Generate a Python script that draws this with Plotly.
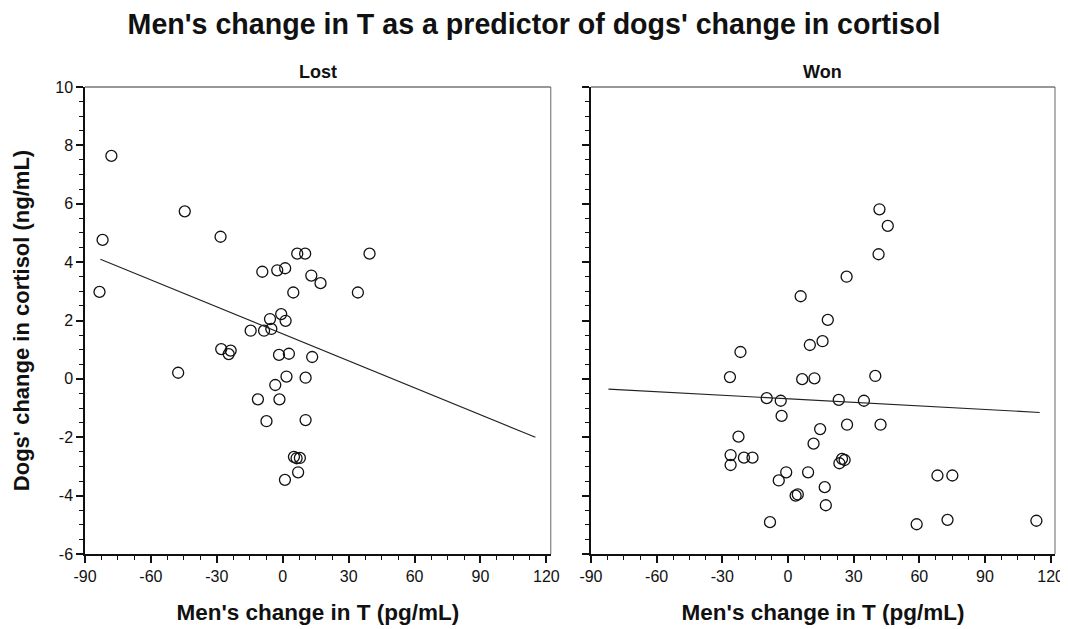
import plotly.graph_objects as go

# ---- data ----
lost_x = [-83.4, -82.0, -78.0, -44.6, -28.3, -9.3, -2.5, 1.1, 6.6, 10.2, 39.5, 13.0, 17.2, 4.8, 34.2,
          -0.7, -5.8, 1.3, -14.6, -8.5, -5.2, -28.0, -23.7, -24.6, -1.7, 2.8, 13.4, 1.7, 10.4, -3.4,
          -47.6, -11.3, -1.5, -7.4, 10.4, 5.1, 6.3, 7.8, 7.0, 1.0]
lost_y = [2.98, 4.76, 7.64, 5.74, 4.87, 3.67, 3.72, 3.79, 4.29, 4.29, 4.29, 3.54, 3.28, 2.96, 2.96,
          2.22, 2.05, 1.99, 1.65, 1.65, 1.71, 1.02, 0.97, 0.85, 0.82, 0.86, 0.75, 0.08, 0.04, -0.21,
          0.21, -0.70, -0.70, -1.45, -1.41, -2.67, -2.72, -2.71, -3.20, -3.46]

won_x = [41.8, 45.6, 41.4, 26.8, 5.8, 18.2, 10.0, 15.8, -21.7, -26.5, 6.5, 12.1, 39.9, -9.7, -3.3,
         23.2, 34.7, -2.9, 14.7, 27.0, 42.3, -22.6, -26.2, -26.2, -20.1, -16.2, 11.7, 24.7, 25.9, 23.5,
         -0.8, 9.2, -4.2, 16.8, 3.5, 4.5, 17.3, -8.2, 58.8, 72.9, 113.5, 68.3, 75.1]
won_y = [5.81, 5.24, 4.27, 3.50, 2.83, 2.02, 1.16, 1.29, 0.92, 0.06, -0.01, 0.02, 0.10, -0.66, -0.75,
         -0.72, -0.75, -1.27, -1.72, -1.57, -1.57, -1.98, -2.61, -2.95, -2.70, -2.70, -2.22, -2.74, -2.78, -2.89,
         -3.20, -3.20, -3.48, -3.71, -4.00, -3.96, -4.33, -4.91, -4.98, -4.83, -4.86, -3.31, -3.31]

fit_lost_x = [-83, 115]
fit_lost_y = [4.1, -2.0]
fit_won_x = [-82, 115]
fit_won_y = [-0.35, -1.15]

x_ticks = [-90, -60, -30, 0, 30, 60, 90, 120]
y_ticks = [-6, -4, -2, 0, 2, 4, 6, 8, 10]

panel_titles = ["Lost", "Won"]
main_title = "Men's change in T as a predictor of dogs' change in cortisol"
x_title = "Men's change in T (pg/mL)"
y_title = "Dogs' change in cortisol (ng/mL)"

# ---- figure ----
BOLD = "Liberation Sans, Arial, sans-serif"
TICKF = "Liberation Sans Narrow, Liberation Sans, Arial, sans-serif"

fig = go.Figure()
marker = dict(symbol="circle-open", size=11, color="#111", line=dict(width=1.3, color="#111"))

fig.add_trace(go.Scatter(x=lost_x, y=lost_y, mode="markers", marker=marker, xaxis="x", yaxis="y", showlegend=False))
fig.add_trace(go.Scatter(x=fit_lost_x, y=fit_lost_y, mode="lines", line=dict(color="#222", width=1.1),
                         xaxis="x", yaxis="y", showlegend=False))
fig.add_trace(go.Scatter(x=won_x, y=won_y, mode="markers", marker=marker, xaxis="x2", yaxis="y2", showlegend=False))
fig.add_trace(go.Scatter(x=fit_won_x, y=fit_won_y, mode="lines", line=dict(color="#222", width=1.1),
                         xaxis="x2", yaxis="y2", showlegend=False))

xcommon = dict(range=[-90, 122], tickmode="array", tickvals=x_ticks, ticktext=[str(v) for v in x_ticks],
               showline=True, linecolor="#111", linewidth=1.5, ticks="outside", ticklen=7, tickwidth=1.5,
               tickcolor="#111", showgrid=False, zeroline=False,
               tickfont=dict(family=TICKF, size=16, color="#111"),
               minor=dict(dtick=7.5, tick0=-90, ticks="outside", ticklen=4, tickwidth=1.3, tickcolor="#111"),
               title=dict(text="<b>" + x_title + "</b>", font=dict(family=BOLD, size=22.5, color="#111"), standoff=20))
ycommon = dict(range=[-6, 10], tickmode="array", tickvals=y_ticks, ticktext=[str(v) for v in y_ticks],
               showline=True, linecolor="#111", linewidth=1.5, ticks="outside", ticklen=7, tickwidth=1.5,
               tickcolor="#111", showgrid=False, zeroline=False,
               tickfont=dict(family=TICKF, size=16, color="#111"),
               minor=dict(dtick=0.5, tick0=-6, ticks="outside", ticklen=4, tickwidth=1.3, tickcolor="#111"))

fig.update_layout(
    width=1068, height=629,
    margin=dict(l=75, r=19, t=79, b=83),
    paper_bgcolor="white", plot_bgcolor="white",
    xaxis=dict(domain=[0, 0.4802], anchor="y", **xcommon),
    xaxis2=dict(domain=[0.5216, 1], anchor="y2", **xcommon),
    yaxis=dict(domain=[0, 1], anchor="x", **ycommon,
               title=dict(text="<b>" + y_title + "</b>", font=dict(family=BOLD, size=22, color="#111"), standoff=20)),
    yaxis2=dict(domain=[0, 1], anchor="x2", showticklabels=False, **ycommon),
    title=dict(text="<b>" + main_title + "</b>", x=0.4925, xanchor="center", y=0.975, yanchor="middle",
               font=dict(family=BOLD, size=28.6, color="#111")),
)

# panel borders (top and right) and panel titles
for xr, yr, t in [("x domain", "y domain", panel_titles[0]), ("x2 domain", "y2 domain", panel_titles[1])]:
    fig.add_shape(type="line", xref=xr, yref=yr, x0=0, x1=1, y0=1, y1=1, line=dict(color="#333", width=1))
    fig.add_shape(type="line", xref=xr, yref=yr, x0=1, x1=1, y0=0, y1=1, line=dict(color="#666", width=1))
    fig.add_annotation(xref=xr, yref=yr, x=0.5, y=1, yshift=15, text="<b>" + t + "</b>", showarrow=False,
                       font=dict(family=BOLD, size=18, color="#111"), yanchor="middle")

fig.write_html("out.html")
